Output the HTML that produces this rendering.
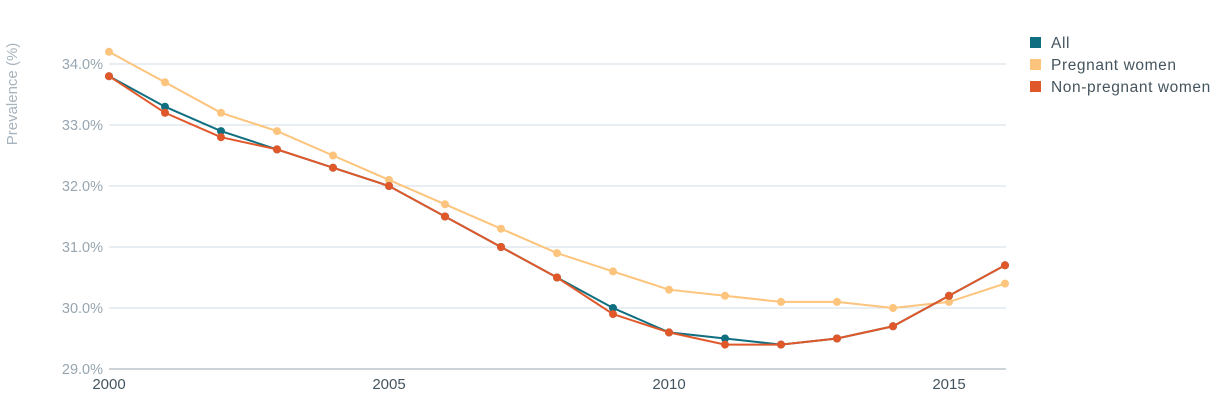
<!DOCTYPE html>
<html><head><meta charset="utf-8"><style>
html,body{margin:0;padding:0;background:#fff;}
svg{display:block;font-family:"Liberation Sans",sans-serif;}
</style></head><body>
<svg id="chart" width="1230" height="403">
<text x="17" y="94" transform="rotate(-90 17 94)" text-anchor="middle" font-size="15" fill="#a7b3bd">Prevalence (%)</text>
<g id="grid"></g><g id="ticks"></g><g id="series"></g>
<g>
<g><rect x="1030" y="37" width="11" height="11" fill="#0f6f80"/><text x="1051" y="48" font-size="15.5" letter-spacing="0.6" fill="#45555f">All</text></g>
<g><rect x="1030" y="59" width="11" height="11" fill="#fcc47c"/><text x="1051" y="70" font-size="15.5" letter-spacing="0.6" fill="#45555f">Pregnant women</text></g>
<g><rect x="1030" y="81" width="11" height="11" fill="#e0582a"/><text x="1051" y="92" font-size="15.5" letter-spacing="0.6" fill="#45555f">Non-pregnant women</text></g>
</g>
</svg>
<script>
const years=[2000,2001,2002,2003,2004,2005,2006,2007,2008,2009,2010,2011,2012,2013,2014,2015,2016];
const pregnant=[34.2,33.7,33.2,32.9,32.5,32.1,31.7,31.3,30.9,30.6,30.3,30.2,30.1,30.1,30.0,30.1,30.4];
const all=[33.8,33.3,32.9,32.6,32.3,32.0,31.5,31.0,30.5,30.0,29.6,29.5,29.4,29.5,29.7,30.2,30.7];
const nonPregnant=[33.8,33.2,32.8,32.6,32.3,32.0,31.5,31.0,30.5,29.9,29.6,29.4,29.4,29.5,29.7,30.2,30.7];
const yTicks=[29,30,31,32,33,34];
const xTicks=[2000,2005,2010,2015];
const NS="http://www.w3.org/2000/svg";
const x=v=>109+(v-2000)*56;
const y=v=>369-(v-29)*61;
function mk(t,a,p){const e=document.createElementNS(NS,t);for(const k in a)e.setAttribute(k,a[k]);p.appendChild(e);return e;}
const grid=document.getElementById('grid'),ticks=document.getElementById('ticks'),ser=document.getElementById('series');
yTicks.forEach(v=>{
 const l=mk('line',{x1:109,x2:1006,y1:y(v),y2:y(v),stroke:v==29?'#9aa8b2':'#d3dde4','stroke-width':1},grid);
 
 
 const t=mk('text',{x:103,y:y(v)+5,'text-anchor':'end','font-size':14.5,fill:'#97a6b1'},ticks);
 t.textContent=v.toFixed(1)+'%';
 
 
});
xTicks.forEach(v=>{
 const t=mk('text',{x:x(v),y:389,'text-anchor':'middle','font-size':15,fill:'#45555f'},ticks);
 t.textContent=v;
 
 
});
function draw(vals,color,name){
 const g=mk('g',{},ser);
 
 
 const p=mk('polyline',{points:vals.map((v,i)=>x(years[i])+','+y(v)).join(' '),fill:'none',stroke:color,'stroke-width':2},g);
 
 
 vals.forEach((v,i)=>{
  const c=mk('circle',{cx:x(years[i]),cy:y(v),r:4,fill:color},g);
  
  
 });
}
draw(pregnant,'#fcc47c','pregnant');
draw(all,'#0f6f80','all');
draw(nonPregnant,'#e0582a','non-pregnant');
</script>
</body></html>
